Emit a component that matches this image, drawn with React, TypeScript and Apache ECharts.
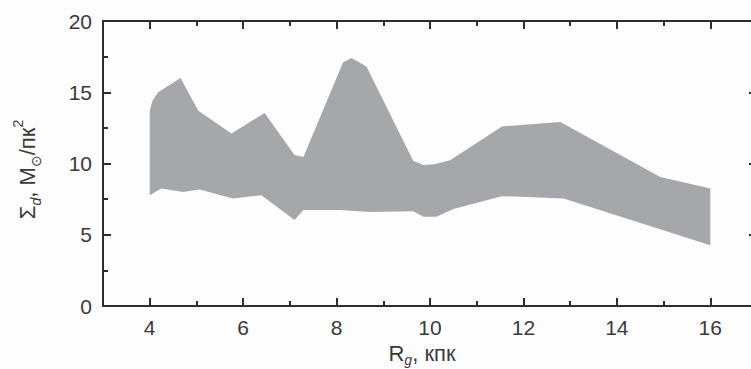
import React, { useEffect, useRef } from "react";
import * as echarts from "echarts";

// Upper boundary of the band: [R, Sigma]
const upperEdge: number[][] = [
  [4.0, 13.7], [4.06, 14.4], [4.18, 15.0], [4.66, 16.0], [5.04, 13.7],
  [5.75, 12.1], [6.46, 13.55], [7.1, 10.6], [7.29, 10.46], [8.14, 17.1],
  [8.32, 17.4], [8.64, 16.8], [9.64, 10.2], [9.86, 9.9], [10.1, 9.95],
  [10.43, 10.23], [11.54, 12.6], [12.79, 12.92], [14.93, 9.06], [16.0, 8.25],
];

// Lower boundary of the band: [R, Sigma]
const lowerEdge: number[][] = [
  [4.0, 7.78], [4.25, 8.25], [4.71, 8.0], [5.07, 8.18], [5.78, 7.55],
  [6.39, 7.78], [7.1, 6.03], [7.29, 6.73], [8.07, 6.73], [8.71, 6.6],
  [9.64, 6.65], [9.86, 6.26], [10.14, 6.26], [10.5, 6.8], [11.54, 7.71],
  [12.86, 7.55], [16.0, 4.27],
];

const xRange = { min: 3, max: 17 };
const xMajorTicks = [4, 6, 8, 10, 12, 14, 16];
const yTicks = { min: 0, max: 20, interval: 5 };

const axisColor = "#2e2e2e";
const labelColor = "#3a3a3a";
const font = "'Liberation Sans', Arial, sans-serif";

export default function App() {
  const ref = useRef<HTMLDivElement>(null);

  useEffect(() => {
    if (!ref.current) return;
    const chart = echarts.init(ref.current, undefined, { renderer: "svg" });

    const lineStyle = { color: axisColor, width: 2 };

    const yNameRich = {
      n: { fontSize: 22, fontFamily: font, color: labelColor, lineHeight: 32 },
      s: { fontSize: 14, fontFamily: font, color: labelColor, fontStyle: "italic", verticalAlign: "bottom", lineHeight: 14 },
      o: { fontSize: 14, fontFamily: font, color: labelColor, verticalAlign: "bottom", lineHeight: 14 },
      p: { fontSize: 14, fontFamily: font, color: labelColor, verticalAlign: "top", lineHeight: 14 },
    };
    const xNameRich = {
      n: { fontSize: 22, fontFamily: font, color: labelColor, lineHeight: 26 },
      s: { fontSize: 14, fontFamily: font, color: labelColor, fontStyle: "italic", verticalAlign: "bottom", lineHeight: 12 },
    };

    const xMajor = (position: string, withLabels: boolean) => ({
      type: "value",
      position,
      min: xRange.min,
      max: xRange.max,
      interval: 1,
      axisLine: { show: true, onZero: false, lineStyle },
      axisTick: { show: true, inside: true, length: 8, lineStyle, customValues: xMajorTicks },
      splitLine: { show: false },
      axisLabel: withLabels
        ? {
            show: true,
            margin: 11,
            fontSize: 21,
            fontFamily: font,
            color: labelColor,
            customValues: xMajorTicks,
          }
        : { show: false },
    });

    const xMinor = (position: string) => ({
      type: "value",
      position,
      min: xRange.min,
      max: xRange.max,
      interval: 1,
      axisLine: { show: false, onZero: false },
      axisTick: { show: true, inside: true, length: 5, lineStyle },
      splitLine: { show: false },
      axisLabel: { show: false },
    });

    const yAxisDef = (position: string, withLabels: boolean) => ({
      type: "value",
      position,
      min: yTicks.min,
      max: yTicks.max,
      interval: yTicks.interval,
      axisLine: { show: true, onZero: false, lineStyle },
      axisTick: { show: true, inside: true, length: 8, lineStyle },
      minorTick: { show: true, splitNumber: 2, length: 5, lineStyle },
      splitLine: { show: false },
      axisLabel: withLabels
        ? { show: true, margin: 11, fontSize: 21, fontFamily: font, color: labelColor }
        : { show: false },
    });

    chart.setOption({
      animation: false,
      backgroundColor: "#fdfdfd",
      grid: { left: 103, right: 0, top: 21, bottom: 63, containLabel: false, outerBoundsMode: "none" },
      xAxis: [
        {
          ...xMajor("bottom", true),
          name: "{n|R}{s|g}{n|, кпк}",
          nameLocation: "middle",
          nameGap: 29,
          nameTextStyle: { rich: xNameRich, padding: [0, 16, 0, 0] },
        },
        xMajor("top", false),
        xMinor("bottom"),
        xMinor("top"),
      ],
      yAxis: [
        {
          ...yAxisDef("left", true),
          name: "{n|Σ}{s|d}{n|, M}{o|⊙}{n|/пк}{p|2}",
          nameLocation: "middle",
          nameGap: 60,
          nameRotate: 90,
          nameTextStyle: { rich: yNameRich, padding: [0, 12, 0, 0] },
        },
        yAxisDef("right", false),
      ],
      series: [
        {
          type: "custom",
          xAxisIndex: 0,
          yAxisIndex: 0,
          data: [upperEdge[0]],
          renderItem: (_params: any, api: any) => {
            const pts = upperEdge
              .map((p) => api.coord(p))
              .concat(lowerEdge.slice().reverse().map((p) => api.coord(p)));
            return {
              type: "polygon",
              shape: { points: pts },
              style: { fill: "#a6a7ab", stroke: "none" },
            };
          },
          z: 1,
        },
      ],
    });

    return () => chart.dispose();
  }, []);

  return (
    <div
      style={{ position: "absolute", left: 0, top: 0, width: 751, height: 369, overflow: "hidden", background: "#fdfdfd" }}
    >
      <div ref={ref} style={{ width: 757, height: 369 }} />
    </div>
  );
}
